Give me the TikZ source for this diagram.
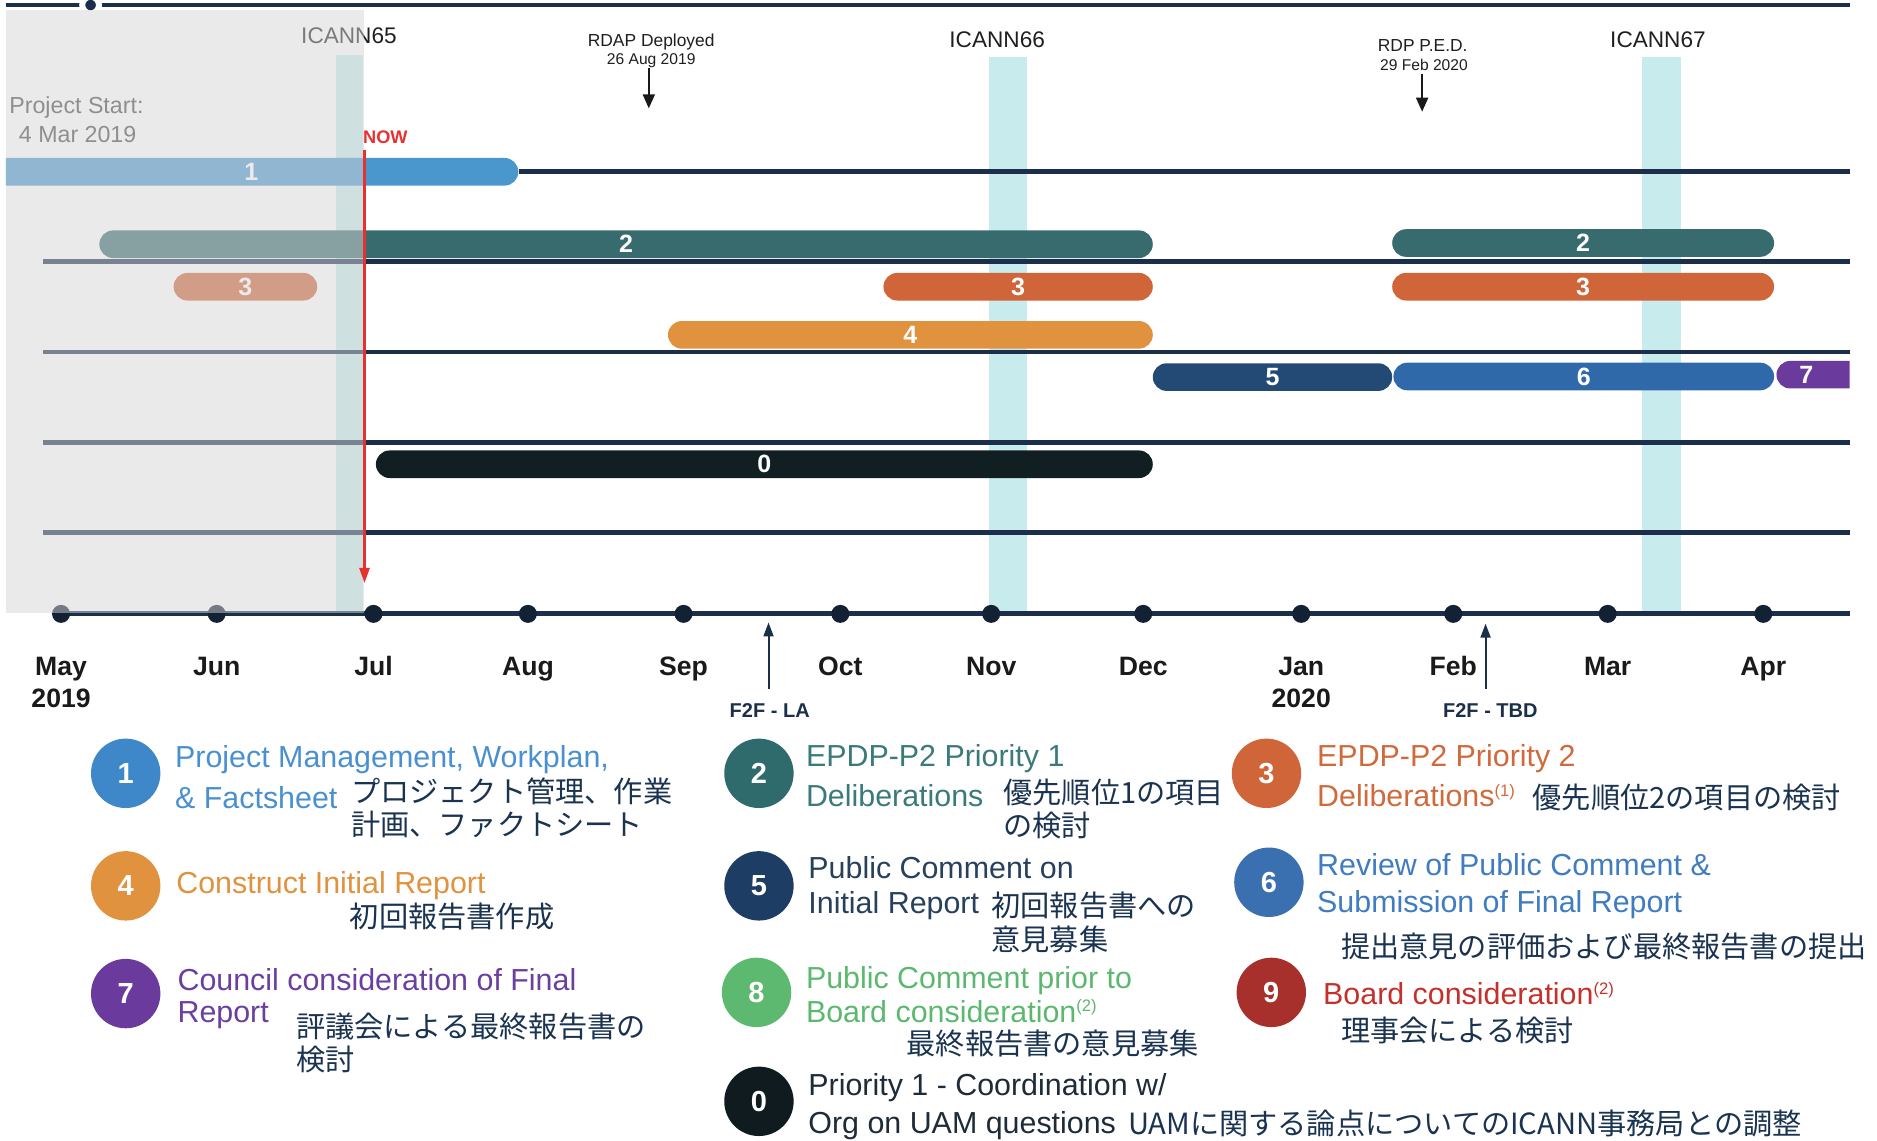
\documentclass[tikz,border=0pt]{standalone}
\usepackage{fontspec}
\setmainfont{Liberation Sans}
\newfontfamily\jpfont{Noto Sans CJK JP}
\usetikzlibrary{shapes.misc,arrows.meta}
\newcommand\setfs[1]{\fontsize{#1}{#1}\selectfont}
\newcommand\supr[1]{\raisebox{0.34em}{\setfs{8.3}(#1)}}
\definecolor{navy}{HTML}{1B2F4B}
\definecolor{bandc}{HTML}{C8EBEE}
\definecolor{pastc}{HTML}{D6D6D6}
\definecolor{c1}{HTML}{4A97CD}
\definecolor{c2}{HTML}{386B6E}
\definecolor{c3}{HTML}{CF6539}
\definecolor{c4}{HTML}{E0923F}
\definecolor{c5}{HTML}{234A74}
\definecolor{c6}{HTML}{2F69A9}
\definecolor{c7}{HTML}{6A3B9C}
\definecolor{c0}{HTML}{111E22}
\definecolor{nowred}{HTML}{E8312F}
\definecolor{jpblue}{HTML}{1A3350}
\definecolor{k1}{HTML}{3E87C8}
\definecolor{k2}{HTML}{2F6B6C}
\definecolor{k3}{HTML}{CF6539}
\definecolor{k4}{HTML}{E0923F}
\definecolor{k5}{HTML}{1E3D64}
\definecolor{k6}{HTML}{3A6FB0}
\definecolor{k7}{HTML}{6A3B9C}
\definecolor{k8}{HTML}{5DB96F}
\definecolor{k9}{HTML}{A8302C}
\definecolor{k0}{HTML}{0F1B1E}
\definecolor{t1}{HTML}{4A90D0}
\definecolor{t2}{HTML}{3A7A7B}
\definecolor{t3}{HTML}{D06A3C}
\definecolor{t4}{HTML}{E0923F}
\definecolor{t5}{HTML}{27405C}
\definecolor{t6}{HTML}{3F7CC0}
\definecolor{t7}{HTML}{6A3FA0}
\definecolor{t8}{HTML}{5CB86E}
\definecolor{t9}{HTML}{C4312B}
\definecolor{t0}{HTML}{1E2B38}
\definecolor{monthc}{HTML}{1A1A1A}
\newcommand\gbar[7][]{\node[ganttbar,#1,fill=#6,minimum width={(#4-#3)*0.5985pt}] (#2) at ({(#3+#4)/2},#5) {#7};}
\begin{document}
\begin{tikzpicture}[x=0.5985pt,y=-0.5985pt,
  lane/.style={draw=navy,line width=2.4pt},
  ganttbar/.style={rounded rectangle,inner sep=0pt,minimum height=13.8pt,text=white,font=\setfs{12.5}\bfseries},
  bartext/.style={inner sep=0pt,text=white,font=\setfs{12.5}\bfseries},
  lgcircle/.style={circle,inner sep=0pt,minimum size=34.7pt,text=white,font=\setfs{14.5}\bfseries},
  en/.style={anchor=base west,inner sep=0pt,font=\setfs{15.2}},
  jptext/.style={anchor=base west,inner sep=0pt,font=\jpfont\setfs{14.6},text=jpblue},
  month/.style={anchor=base,inner sep=0pt,font=\setfs{13.3}\bfseries,text=monthc},
  mdot/.style={circle,fill=navy!70!black,inner sep=0pt,minimum size=9pt},
  icann/.style={anchor=base,inner sep=0pt,font=\setfs{11.3},text=black!88},
  smalltop/.style={anchor=base,inner sep=0pt,font=\setfs{8.7},text=black!88},
  smalldate/.style={anchor=base,inner sep=0pt,font=\setfs{7.8},text=black!88},
  f2f/.style={anchor=base,inner sep=0pt,font=\setfs{10}\bfseries,text=navy},
  blackarr/.style={draw=black!90,line width=0.9pt,-{Triangle[width=6pt,length=7pt]}},
  navyarr/.style={draw=navy,line width=1pt,-{Triangle[width=5pt,length=7pt]}},
  topdot/.style={circle,fill=navy,draw=white,line width=3pt,inner sep=0pt,minimum size=8.4pt}
]
\useasboundingbox (0,0) rectangle (1568,953);

% ICANN meeting bands
\fill[bandc] (281,46) rectangle (303,512);
\fill[bandc] (826,48) rectangle (858,512);
\fill[bandc] (1372,48) rectangle (1404,512);
\node[icann] (icann65) at (291.5,36) {ICANN65};
\node[icann] (icann66) at (833,40) {ICANN66};
\node[icann] (icann67) at (1385,40) {ICANN67};

% top line
\coordinate (tl) at (5,4.2);
\coordinate (tr) at (1545,4.2);
\draw[navy,line width=1.7pt] (tl) -- (tr);
\node[topdot] (startdot) at (75.7,4.2) {};

% swimlane lines
\coordinate (l1e) at (1545,143.5);
\coordinate (l2w) at (36,218.6); \coordinate (l2e) at (1545,218.6);
\coordinate (l3w) at (36,294.1); \coordinate (l3e) at (1545,294.1);
\coordinate (l4w) at (36,369.5); \coordinate (l4e) at (1545,369.5);
\coordinate (l5w) at (36,444.5); \coordinate (l5e) at (1545,444.5);
\draw[lane] (l2w) -- (l2e);
\draw[lane] (l3w) -- (l3e);
\draw[lane] (l4w) -- (l4e);
\draw[lane] (l5w) -- (l5e);

% bars
\gbar[rounded rectangle west arc=none]{b1}{5}{433}{143.5}{c1}{}
\draw[lane] (b1.east) -- (l1e);
\node[bartext] (b1t) at (210,143.5) {1};
\gbar{b2a}{83}{963}{204}{c2}{2}
\gbar{b2b}{1163}{1482}{203}{c2}{2}
\gbar{b3a}{145}{265}{239.5}{c3}{3}
\gbar{b3b}{738}{963}{239.5}{c3}{3}
\gbar{b3c}{1163}{1482}{239.5}{c3}{3}
\gbar{b4}{558}{963}{279.7}{c4}{4}
\gbar{b5}{963}{1163}{315}{c5}{5}
\gbar{b6}{1164}{1482}{314.5}{c6}{6}
\gbar[rounded rectangle east arc=none]{b7}{1484}{1545}{313}{c7}{}
\node[bartext] (b7t) at (1509,313) {7};
\gbar{b0}{314}{963}{387.8}{c0}{0}

% month axis
\coordinate (axl) at (50,512.4);
\coordinate (axr) at (1545,512.4);
\draw[lane] (axl) -- (axr);
\foreach \x/\m in {51/May,181/Jun,312/Jul,441/Aug,571/Sep,702/Oct,828/Nov,955/Dec,1087/Jan,1214/Feb,1343/Mar,1473/Apr}{
  \node[mdot] (d\m) at (\x,512.8) {};
  \node[month] (m\m) at (\x,564) {\m};
}
\node[month] (y2019) at (51,591) {2019};
\node[month] (y2020) at (1087,591) {2020};

% F2F arrows
\node[f2f] (f2fla) at (643,599) {F2F - LA};
\coordinate (latip) at (642,520);
\draw[navyarr,shorten <=7pt] (f2fla.north -| latip) -- (latip);
\node[f2f] (f2ftbd) at (1245,599) {F2F - TBD};
\coordinate (tbdtip) at (1241,521);
\draw[navyarr,shorten <=7pt] (f2ftbd.north -| tbdtip) -- (tbdtip);

% top annotations
\node[smalltop] (rdapa) at (544,39) {RDAP Deployed};
\node[smalldate] (rdapb) at (544,54) {26 Aug 2019};
\coordinate (rdaptip) at (542,90.5);
\draw[blackarr] (rdapb.south -| rdaptip) -- (rdaptip);
\node[smalltop] (rdpa) at (1188.5,43) {RDP P.E.D.};
\node[smalldate] (rdpb) at (1189.5,58.5) {29 Feb 2020};
\coordinate (rdptip) at (1188,93.3);
\draw[blackarr,shorten <=1.5pt] (rdpb.south -| rdptip) -- (rdptip);

\node[anchor=base west,inner sep=0pt,font=\setfs{11.6},text=black!72] (pstart) at (7.5,95) {Project Start:};
\node[anchor=base west,inner sep=0pt,font=\setfs{11.6},text=black!72] (pdate) at (15.5,119) {4 Mar 2019};

% past overlay
\fill[pastc,opacity=0.5] (5,8.4) rectangle (304,512);

% NOW marker
\node[anchor=base west,inner sep=0pt,font=\setfs{9.1}\bfseries,text=nowred] (now) at (303,120) {NOW};
\coordinate (nowtop) at (304.5,125);
\coordinate (nowtip) at (304.5,487);
\draw[nowred,line width=1.2pt,-{Triangle[width=5pt,length=7.5pt]}] (nowtop) -- (nowtip);

% legend circles
\node[lgcircle,fill=k1] (k1n) at (105,646) {1};
\node[lgcircle,fill=k4] (k4n) at (105,740) {4};
\node[lgcircle,fill=k7] (k7n) at (105,830) {7};
\node[lgcircle,fill=k2] (k2n) at (634,646) {2};
\node[lgcircle,fill=k5] (k5n) at (634,740) {5};
\node[lgcircle,fill=k8] (k8n) at (632,829) {8};
\node[lgcircle,fill=k0] (k0n) at (634,920) {0};
\node[lgcircle,fill=k3] (k3n) at (1058,646) {3};
\node[lgcircle,fill=k6] (k6n) at (1060,737) {6};
\node[lgcircle,fill=k9] (k9n) at (1062,829) {9};

% legend texts
\node[en,text=t1] (e1a) at (146,641) {Project Management, Workplan,};
\node[en,text=t1] (e1b) at (146,675) {\& Factsheet};
\node[jptext] (j1a) at (293,670) {プロジェクト管理、作業};
\node[jptext] (j1b) at (293,698) {計画、ファクトシート};

\node[en,text=t2] (e2a) at (673,640) {EPDP-P2 Priority 1};
\node[en,text=t2] (e2b) at (673,674) {Deliberations};
\node[jptext] (j2a) at (838,671) {優先順位1の項目};
\node[jptext] (j2b) at (838,699) {の検討};

\node[en,text=t3] (e3a) at (1100,640) {EPDP-P2 Priority 2};
\node[en,text=t3] (e3b) at (1100,674) {Deliberations\supr{1}};
\node[jptext] (j3a) at (1280,675) {優先順位2の項目の検討};

\node[en,text=t4] (e4a) at (147,746) {Construct Initial Report};
\node[jptext] (j4a) at (292,775) {初回報告書作成};

\node[en,text=t5] (e5a) at (675,734) {Public Comment on};
\node[en,text=t5] (e5b) at (675,763) {Initial Report};
\node[jptext] (j5a) at (828,766) {初回報告書への};
\node[jptext] (j5b) at (828,794) {意見募集};

\node[en,text=t6] (e6a) at (1100,731) {Review of Public Comment \&};
\node[en,text=t6] (e6b) at (1100,762) {Submission of Final Report};
\node[jptext] (j6a) at (1120,800) {提出意見の評価および最終報告書の提出};

\node[en,text=t7] (e7a) at (148,827) {Council consideration of Final};
\node[en,text=t7] (e7b) at (148,854) {Report};
\node[jptext] (j7a) at (247,867) {評議会による最終報告書の};
\node[jptext] (j7b) at (247,894) {検討};

\node[en,text=t8] (e8a) at (673,826) {Public Comment prior to};
\node[en,text=t8] (e8b) at (673,854) {Board consideration\supr{2}};
\node[jptext] (j8a) at (757,881) {最終報告書の意見募集};

\node[en,text=t9] (e9a) at (1105,839) {Board consideration\supr{2}};
\node[jptext] (j9a) at (1120,870) {理事会による検討};

\node[en,text=t0] (e0a) at (675,915) {Priority 1 - Coordination w/};
\node[en,text=t0] (e0b) at (675,947) {Org on UAM questions};
\node[jptext] (j0a) at (942,948) {UAMに関する論点についてのICANN事務局との調整};
\end{tikzpicture}
\end{document}
